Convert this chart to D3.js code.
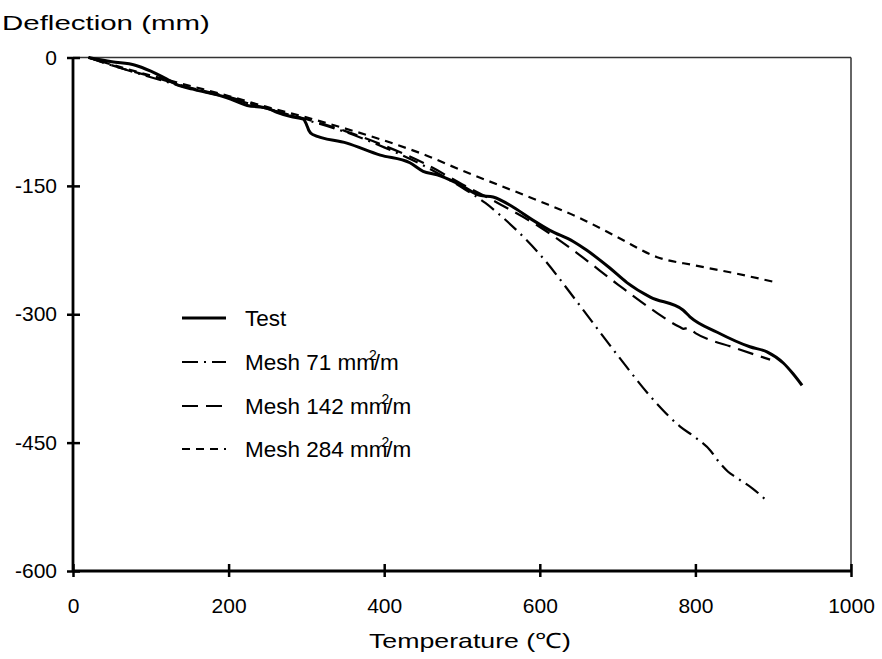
<!DOCTYPE html>
<html><head><meta charset="utf-8">
<script src="https://cdn.jsdelivr.net/npm/d3@7"></script>
<style>
body{margin:0;background:#fff}
text{font-family:"Liberation Sans",Arial,Helvetica,sans-serif;fill:#000}
</style>
</head><body>
<svg id="c" width="882" height="659"></svg>
<script>
// ---- data ----
const xTicks = [0, 200, 400, 600, 800, 1000];
const yTicks = [0, -150, -300, -450, -600];
const seriesNames = ["Test", "Mesh 71", "Mesh 142", "Mesh 284"];

const testT = [20, 50, 80, 100, 120, 134, 154, 198, 224, 249, 262, 280, 296, 300, 303, 308, 352, 395, 433, 450, 468, 494, 523, 540, 566, 591, 613, 643, 660, 690, 712, 742, 784, 793, 828, 870, 892, 913, 925, 937];
const testD = [0, -5, -9, -16, -25, -32, -37, -47, -56, -59, -64, -69, -72, -78, -85, -90, -100, -114, -123, -133, -137, -147, -161, -163, -175, -190, -202, -215, -225, -246, -263, -280, -295, -303, -321, -338, -344, -357, -369, -383];

const m71T = [20, 60, 100, 150, 200, 250, 300, 350, 400, 450, 500, 530, 550, 600, 650, 700, 750, 780, 800, 820, 828, 842, 853, 874, 893];
const m71D = [0, -12, -23, -36, -47, -60, -73, -87, -105, -126, -152, -170, -185, -230, -288, -348, -404, -431, -444, -460, -470, -484, -491, -504, -519];

const m142T = [20, 60, 100, 150, 200, 250, 300, 350, 400, 450, 500, 550, 600, 650, 700, 750, 780, 785, 790, 800, 850, 896];
const m142D = [0, -12, -22, -35, -46, -60, -72, -86, -103, -123, -148, -172, -198, -230, -265, -298, -315, -317, -316, -322, -339, -353];

const m284T = [20, 60, 100, 150, 200, 250, 300, 350, 400, 450, 500, 550, 600, 650, 700, 750, 800, 850, 900];
const m284D = [0, -11, -21, -33, -45, -58, -70, -83, -97, -113, -132, -150, -168, -187, -210, -233, -243, -252, -262];

// ---- chart ----
const svg = d3.select("#c");
const x = d3.scaleLinear().domain([0, 1000]).range([73, 851]);
const y = d3.scaleLinear().domain([0, -600]).range([57.5, 571]);

const styles = [
  {w: 3, dash: null},
  {w: 2.2, dash: "16,6,2,6"},
  {w: 2.2, dash: "16,8"},
  {w: 2.2, dash: "8,6"}
];
const data = [
  d3.zip(testT, testD),
  d3.zip(m71T, m71D),
  d3.zip(m142T, m142D),
  d3.zip(m284T, m284D)
];

// frame (top / right thin)
svg.append("line").attr("x1", x(0)).attr("x2", x(1000)).attr("y1", y(0)).attr("y2", y(0))
  .attr("stroke", "#333").attr("stroke-width", 1.5);
svg.append("line").attr("x1", x(1000)).attr("x2", x(1000)).attr("y1", y(0)).attr("y2", y(-600))
  .attr("stroke", "#333").attr("stroke-width", 1.5);

const line = d3.line().x(d => x(d[0])).y(d => y(d[1])).curve(d3.curveMonotoneX);
data.forEach((dd, i) => {
  svg.append("path").datum(dd).attr("d", line).attr("fill", "none")
    .attr("stroke", "#000").attr("stroke-width", styles[i].w)
    .attr("stroke-dasharray", styles[i].dash).attr("stroke-linejoin", "round");
});

// axes
const fmt = d => String(d);
const xAxis = d3.axisBottom(x).tickValues(xTicks).tickSize(6).tickPadding(21).tickFormat(fmt);
const gx = svg.append("g").attr("transform", `translate(0,${y(-600)})`).call(xAxis);
gx.select(".domain").remove();
gx.append("line").attr("x1", x(0)).attr("x2", x(1000)).attr("stroke", "#000").attr("stroke-width", 2.8);
gx.selectAll(".tick line").attr("y1", -7).attr("y2", 6).attr("stroke", "#000").attr("stroke-width", 2.5);
gx.selectAll(".tick text").attr("font-size", 21).attr("font-family", "Liberation Sans, Arial, sans-serif");

const yAxis = d3.axisLeft(y).tickValues(yTicks).tickSize(6).tickPadding(10).tickFormat(fmt);
const gy = svg.append("g").attr("transform", `translate(${x(0)},0)`).call(yAxis);
gy.select(".domain").remove();
gy.append("line").attr("y1", y(0)).attr("y2", y(-600)).attr("stroke", "#000").attr("stroke-width", 2.8);
gy.selectAll(".tick line").attr("x1", -6).attr("x2", 7).attr("stroke", "#000").attr("stroke-width", 2.5);
gy.selectAll(".tick text").attr("font-size", 21).attr("font-family", "Liberation Sans, Arial, sans-serif");

// helper: place text so that it spans a target width (horizontal scale)
function fitText(sel, x0, y0, target) {
  const w = sel.node().getComputedTextLength();
  const s = target / w;
  sel.attr("transform", `translate(${x0},${y0}) scale(${s},1)`);
}

// titles
const t1 = svg.append("text").attr("font-size", 21).text("Deflection (mm)");
fitText(t1, 2, 30, 208);
const t2 = svg.append("text").attr("font-size", 21).text("Temperature (℃)");
fitText(t2, 369, 648, 202);

// legend
const legY = [318, 362, 406, 449];
const lg = svg.append("g");
seriesNames.forEach((n, i) => {
  lg.append("line").attr("x1", 182).attr("x2", 226).attr("y1", legY[i]).attr("y2", legY[i])
    .attr("stroke", "#000").attr("stroke-width", styles[i].w).attr("stroke-dasharray", styles[i].dash);
  const t = lg.append("text").attr("x", 245).attr("y", legY[i] + 8).attr("font-size", 22.5);
  if (i === 0) { t.text(n); }
  else {
    t.append("tspan").text(n + " mm");
    t.append("tspan").attr("dy", -10).attr("dx", -6).attr("font-size", 14).text("2");
    t.append("tspan").attr("dy", 10).attr("dx", -3).text("/m");
  }
});
</script>
</body></html>
